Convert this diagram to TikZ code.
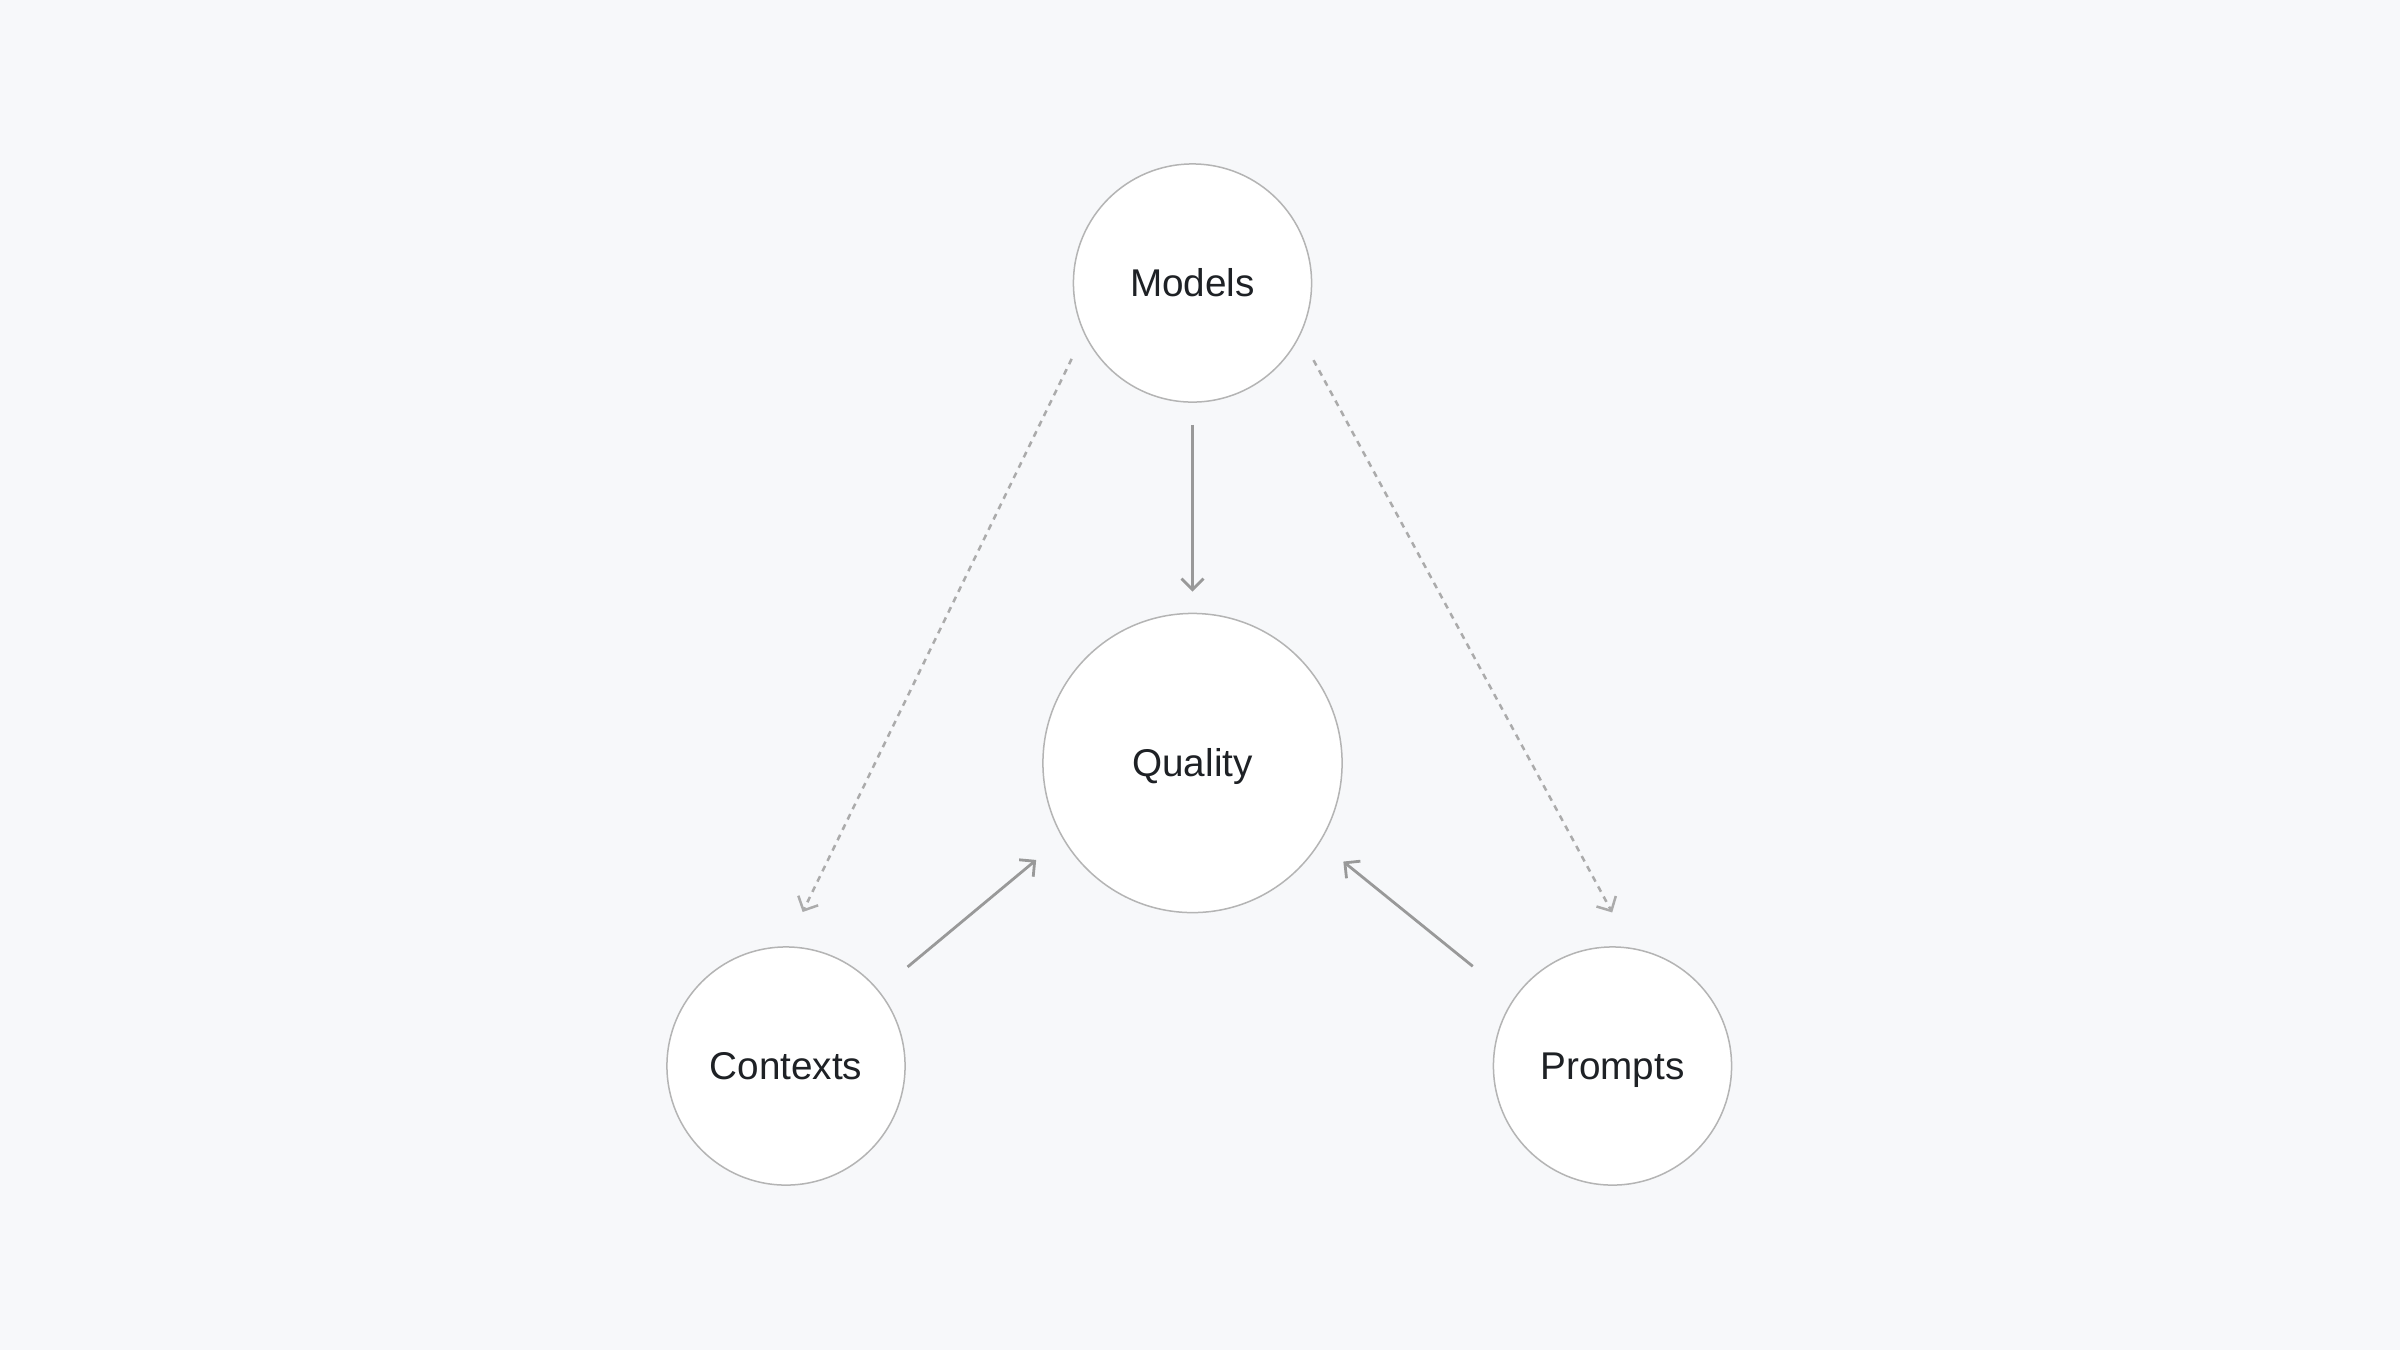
\documentclass[tikz,border=0pt]{standalone}
\usepackage{fontspec}
\setmainfont{Liberation Sans}
\usetikzlibrary{arrows.meta}
\definecolor{bg}{HTML}{F7F8FA}
\definecolor{ring}{HTML}{B4B4B4}
\definecolor{solidarr}{HTML}{999999}
\definecolor{dasharr}{HTML}{ABABAB}
\definecolor{txt}{HTML}{1E2125}
\begin{document}
\begin{tikzpicture}[x=0.01cm, y=-0.01cm,
  circ/.style={circle, draw=ring, line width=0.015cm, fill=white,
    minimum size=2.38cm, inner sep=0pt, text=txt,
    font=\fontsize{11pt}{13pt}\selectfont, text height=0.78em, text depth=0pt},
  solidarrow/.style={draw=solidarr, line width=0.028cm,
    -{Straight Barb[length=0.11cm,width=0.22cm]}},
  dasharrow/.style={draw=dasharr, line width=0.025cm, dash pattern=on 0.06cm off 0.055cm,
    -{Straight Barb[length=0.11cm,width=0.22cm]}}
]
\fill[bg] (0,0) rectangle (2400,1350);
\useasboundingbox (0,0) rectangle (2400,1350);
\node[circ] (models) at (1192.5,283) {Models};
\node[circ, minimum size=2.99cm] (quality) at (1192.5,763) {Quality};
\node[circ] (contexts) at (786,1066) {Contexts};
\node[circ] (prompts) at (1612.5,1066) {Prompts};

\draw[solidarrow, shorten <=0.22cm, shorten >=0.21cm] (models.south) -- (quality.north);
\draw[solidarrow, shorten <=0.37cm, shorten >=0.34cm] (contexts.39.5) -- (quality.210);
\draw[solidarrow, shorten <=0.52cm, shorten >=0.30cm] (prompts.146.3) -- (quality.328);
\draw[dasharrow, shorten <=0.28cm, shorten >=0.38cm] (models.205.7) -- (contexts.north);
\draw[dasharrow, shorten <=0.28cm, shorten >=0.40cm] (models.334.2) -- (prompts.81);
\end{tikzpicture}
\end{document}
